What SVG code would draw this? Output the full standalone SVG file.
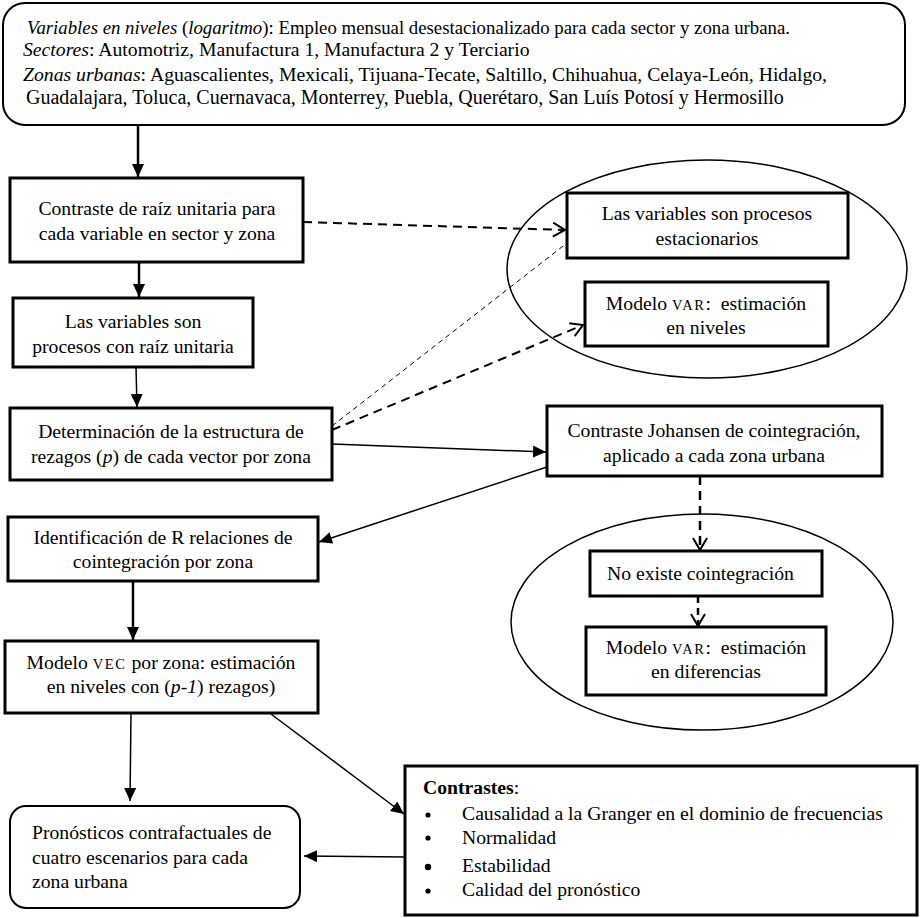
<svg xmlns="http://www.w3.org/2000/svg" width="920" height="918" viewBox="0 0 920 918">
<defs>
<marker id="ah" markerUnits="userSpaceOnUse" markerWidth="14" markerHeight="12" refX="13" refY="6" orient="auto"><path d="M0,0 L13,6 L0,12 z" fill="#000"/></marker>
<marker id="av" markerUnits="userSpaceOnUse" markerWidth="16" markerHeight="16" refX="13" refY="8" orient="auto"><path d="M1,1 L13,8 L1,15" fill="none" stroke="#000" stroke-width="2"/></marker>
</defs>
<style>
text{font-family:"Liberation Serif","Times New Roman",serif;font-size:19.7px;fill:#000}
.c{text-anchor:middle}
.box{fill:#fff;stroke:#000;stroke-width:3}
.ell{fill:none;stroke:#000;stroke-width:1.5}
.sc{font-size:14.5px;letter-spacing:1.6px}
.conn line{fill:none;stroke:#000}
</style>
<rect width="920" height="918" fill="#fff"/>
<g id="conn" class="conn">
<line x1="138" y1="125" x2="138" y2="177" stroke-width="2.5" marker-end="url(#ah)"/>
<line x1="139" y1="262" x2="139" y2="297" stroke-width="2.5" marker-end="url(#ah)"/>
<line x1="136" y1="367" x2="137" y2="407" stroke-width="1.5" marker-end="url(#ah)"/>
<line x1="332" y1="444" x2="546" y2="452" stroke-width="1.5" marker-end="url(#ah)"/>
<line x1="547" y1="467" x2="319" y2="542" stroke-width="1.5" marker-end="url(#ah)"/>
<line x1="133" y1="581" x2="133" y2="640" stroke-width="2.5" marker-end="url(#ah)"/>
<line x1="131" y1="713" x2="130" y2="801" stroke-width="1.5" marker-end="url(#ah)"/>
<line x1="271" y1="714" x2="404" y2="814" stroke-width="1.5" marker-end="url(#ah)"/>
<line x1="405" y1="857" x2="304" y2="856" stroke-width="1.5" marker-end="url(#ah)"/>
<line x1="303" y1="222" x2="565" y2="230" stroke-width="2" stroke-dasharray="9,6" marker-end="url(#av)"/>
<line x1="332" y1="426" x2="567" y2="243" stroke-width="1" stroke-dasharray="5,4"/>
<line x1="332" y1="430" x2="583" y2="325" stroke-width="2" stroke-dasharray="9,6" marker-end="url(#av)"/>
<line x1="700" y1="476" x2="700" y2="550" stroke-width="2.5" stroke-dasharray="9,6" marker-end="url(#av)"/>
<line x1="698" y1="596" x2="698" y2="626" stroke-width="2.5" stroke-dasharray="7,5" marker-end="url(#av)"/>
</g>
<g id="n-top">
<rect x="3" y="3" width="902" height="122" rx="22" ry="22" fill="#fff" stroke="#000" stroke-width="2"/>
<text x="27" y="34" style="font-size:18.8px"><tspan font-style="italic">Variables en niveles</tspan> (<tspan font-style="italic">logaritmo</tspan>): Empleo mensual desestacionalizado para cada sector y zona urbana.</text>
<text x="23" y="56"><tspan font-style="italic">Sectores</tspan>: Automotriz, Manufactura 1, Manufactura 2 y Terciario</text>
<text x="23" y="81"><tspan font-style="italic">Zonas urbanas</tspan>: Aguascalientes, Mexicali, Tijuana-Tecate, Saltillo, Chihuahua, Celaya-León, Hidalgo,</text>
<text x="26" y="104" style="font-size:20px">Guadalajara, Toluca, Cuernavaca, Monterrey, Puebla, Querétaro, San Luís Potosí y Hermosillo</text>
</g>
<g id="n-raiz">
<rect class="box" x="10" y="178" width="293" height="84"/>
<text class="c" x="157" y="215">Contraste de raíz unitaria para</text>
<text class="c" x="157" y="240">cada variable en sector y zona</text>
</g>
<g id="n-procesos">
<rect class="box" x="13" y="298" width="240" height="69"/>
<text class="c" x="133" y="328">Las variables son</text>
<text class="c" x="133" y="353">procesos con raíz unitaria</text>
</g>
<g id="n-rezagos">
<rect class="box" x="10" y="408" width="322" height="72"/>
<text class="c" x="171" y="438">Determinación de la estructura de</text>
<text class="c" x="171" y="463">rezagos (<tspan font-style="italic">p</tspan>) de cada vector por zona</text>
</g>
<g id="n-ellipse1">
<ellipse class="ell" cx="707" cy="269" rx="200" ry="109"/>
</g>
<g id="n-estacionarios">
<rect class="box" x="567" y="193" width="281" height="65"/>
<text class="c" x="707" y="220">Las variables son procesos</text>
<text class="c" x="707" y="245">estacionarios</text>
</g>
<g id="n-varniveles">
<rect class="box" x="585" y="282" width="243" height="64"/>
<text class="c" x="706" y="310" xml:space="preserve">Modelo <tspan class="sc">VAR</tspan>:  estimación</text>
<text class="c" x="706" y="334">en niveles</text>
</g>
<g id="n-johansen">
<rect class="box" x="547" y="406" width="335" height="70"/>
<text class="c" x="714" y="437">Contraste Johansen de cointegración,</text>
<text class="c" x="714" y="462">aplicado a cada zona urbana</text>
</g>
<g id="n-identificacion">
<rect class="box" x="8" y="517" width="310" height="64"/>
<text class="c" x="163" y="544">Identificación de R relaciones de</text>
<text class="c" x="163" y="568">cointegración por zona</text>
</g>
<g id="n-ellipse2">
<ellipse class="ell" cx="702" cy="622" rx="191" ry="108"/>
</g>
<g id="n-nocoint">
<rect class="box" x="590" y="551" width="232" height="45"/>
<text x="607" y="580">No existe cointegración</text>
</g>
<g id="n-vardif">
<rect class="box" x="586" y="627" width="240" height="68"/>
<text class="c" x="706" y="654" xml:space="preserve">Modelo <tspan class="sc">VAR</tspan>:  estimación</text>
<text class="c" x="706" y="678">en diferencias</text>
</g>
<g id="n-vec">
<rect class="box" x="5" y="641" width="313" height="72"/>
<text class="c" x="161" y="669">Modelo <tspan class="sc">VEC</tspan> por zona: estimación</text>
<text class="c" x="161" y="693">en niveles con (<tspan font-style="italic">p-1</tspan>) rezagos)</text>
</g>
<g id="n-pronosticos">
<rect x="10" y="806" width="290" height="102" rx="16" ry="16" fill="#fff" stroke="#000" stroke-width="2"/>
<text x="32" y="839">Pronósticos contrafactuales de</text>
<text x="32" y="864">cuatro escenarios para cada</text>
<text x="32" y="888">zona urbana</text>
</g>
<g id="n-contrastes">
<rect class="box" x="405" y="766" width="512" height="149"/>
<text x="423" y="794"><tspan font-weight="bold">Contrastes</tspan>:</text>
<circle cx="428" cy="815" r="2.6"/>
<circle cx="428" cy="838" r="2.6"/>
<circle cx="428" cy="867" r="3.2"/>
<circle cx="428" cy="891" r="2.6"/>
<text x="462" y="820">Causalidad a la Granger en el dominio de frecuencias</text>
<text x="462" y="844">Normalidad</text>
<text x="462" y="872">Estabilidad</text>
<text x="462" y="896">Calidad del pronóstico</text>
</g>
</svg>
